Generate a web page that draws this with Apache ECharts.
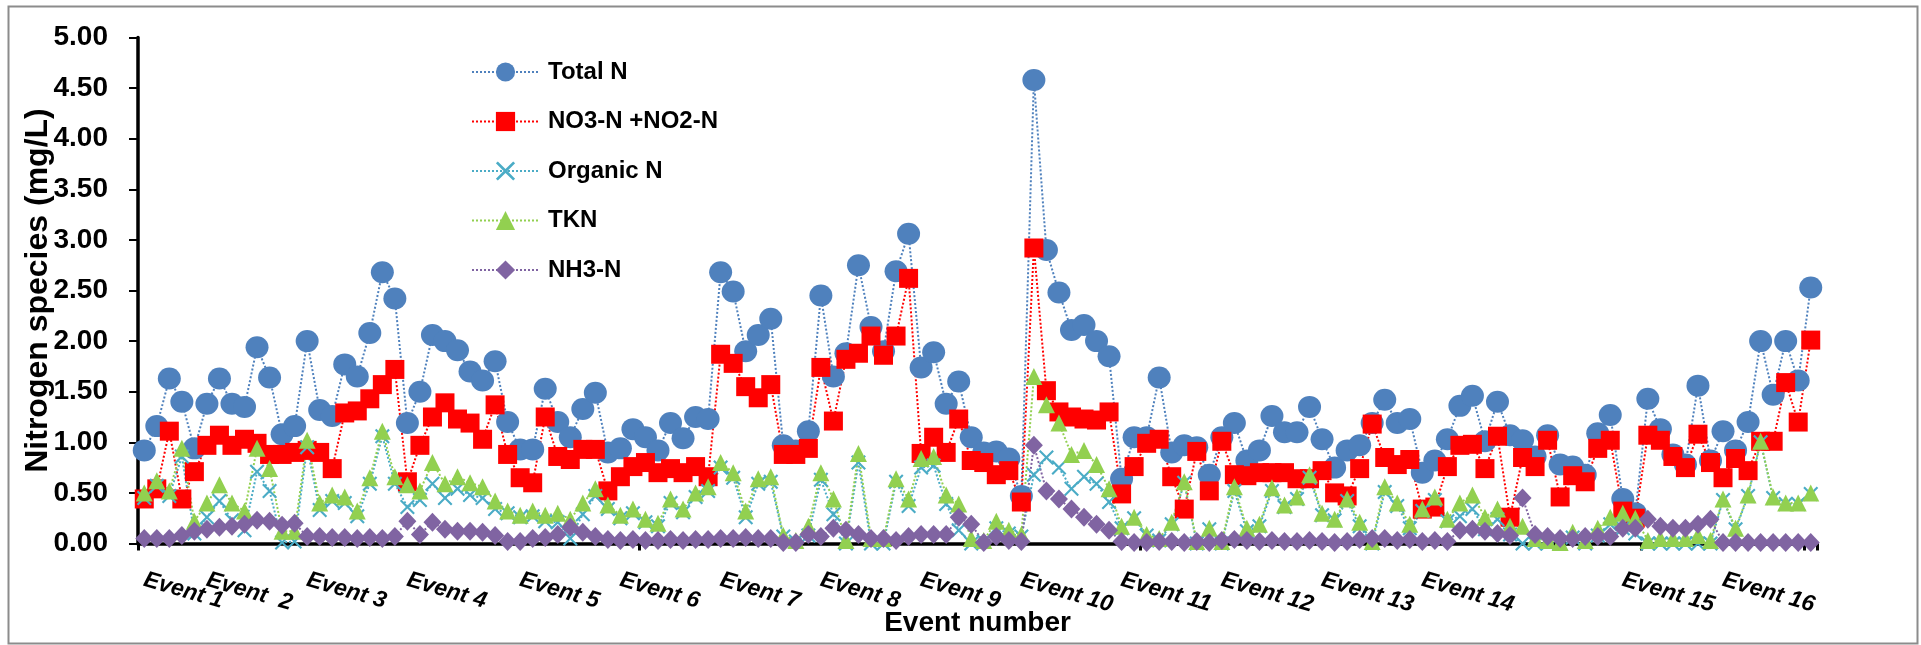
<!DOCTYPE html>
<html>
<head>
<meta charset="utf-8">
<script src="https://cdn.jsdelivr.net/npm/echarts@6/dist/echarts.min.js"></script>
<style>
  html, body { margin: 0; padding: 0; background: #fff; }
  #chart { width: 1921px; height: 645px; }
</style>
</head>
<body>
<div id="chart"></div>
<script>
// event labels and the sample index where each label sits
var eventNames = ['Event 1', 'Event  2', 'Event 3', 'Event 4', 'Event 5', 'Event 6', 'Event 7', 'Event 8',
  'Event 9', 'Event 10', 'Event 11', 'Event 12', 'Event 13', 'Event 14', 'Event 15', 'Event 16'];
var eventStart = [0, 5, 13, 21, 30, 38, 46, 54, 62, 70, 78, 86, 94, 102, 118, 126];

var yTicks = [0, 0.5, 1, 1.5, 2, 2.5, 3, 3.5, 4, 4.5, 5];

// series values (mg/L), one per sample
var totalN = [0.92, 1.16, 1.63, 1.40, 0.94, 1.38, 1.63, 1.38, 1.35, 1.94, 1.64, 1.08, 1.16, 2.00, 1.32, 1.26, 1.77, 1.65, 2.08, 2.68,
  2.42, 1.19, 1.50, 2.06, 2.00, 1.91, 1.70, 1.61, 1.80, 1.20, 0.93, 0.93, 1.53, 1.20, 1.05, 1.33, 1.49, 0.90, 0.94, 1.13,
  1.05, 0.92, 1.19, 1.04, 1.25, 1.23, 2.68, 2.49, 1.90, 2.06, 2.22, 0.97, 0.92, 1.11, 2.45, 1.65, 1.88, 2.75, 2.14, 1.90,
  2.69, 3.06, 1.74, 1.89, 1.38, 1.60, 1.05, 0.90, 0.91, 0.84, 0.47, 4.58, 2.90, 2.48, 2.11, 2.16, 2.00, 1.85, 0.64, 1.05,
  1.05, 1.64, 0.90, 0.97, 0.95, 0.68, 1.05, 1.19, 0.82, 0.92, 1.26, 1.10, 1.10, 1.35, 1.03, 0.75, 0.92, 0.97, 1.19, 1.42,
  1.19, 1.23, 0.70, 0.82, 1.03, 1.36, 1.46, 1.01, 1.40, 1.07, 1.02, 0.86, 1.07, 0.78, 0.76, 0.68, 1.09, 1.27, 0.44, 0.30,
  1.43, 1.13, 0.88, 0.78, 1.56, 0.82, 1.11, 0.92, 1.20, 2.00, 1.47, 2.00, 1.61, 2.53];

var no3no2 = [0.44, 0.54, 1.11, 0.44, 0.71, 0.97, 1.07, 0.97, 1.03, 0.99, 0.88, 0.88, 0.90, 0.92, 0.90, 0.74, 1.29, 1.31, 1.43, 1.57,
  1.72, 0.61, 0.97, 1.25, 1.39, 1.23, 1.19, 1.03, 1.37, 0.88, 0.65, 0.60, 1.25, 0.86, 0.83, 0.93, 0.93, 0.52, 0.66, 0.76,
  0.80, 0.70, 0.74, 0.70, 0.76, 0.66, 1.87, 1.78, 1.55, 1.44, 1.57, 0.88, 0.88, 0.94, 1.74, 1.21, 1.82, 1.88, 2.05, 1.86,
  2.05, 2.62, 0.89, 1.05, 0.90, 1.23, 0.82, 0.80, 0.68, 0.72, 0.41, 2.92, 1.51, 1.30, 1.25, 1.23, 1.22, 1.30, 0.49, 0.76,
  0.99, 1.03, 0.66, 0.34, 0.91, 0.52, 1.01, 0.68, 0.67, 0.70, 0.70, 0.70, 0.64, 0.64, 0.72, 0.50, 0.47, 0.74, 1.18, 0.85,
  0.78, 0.83, 0.34, 0.36, 0.76, 0.97, 0.98, 0.74, 1.06, 0.26, 0.85, 0.76, 1.02, 0.46, 0.67, 0.61, 0.94, 1.02, 0.32, 0.25,
  1.07, 1.02, 0.86, 0.75, 1.08, 0.80, 0.65, 0.84, 0.72, 1.01, 1.01, 1.59, 1.20, 2.01];

var organicN = [0.45, 0.57, 0.47, 0.86, 0.10, 0.26, 0.42, 0.23, 0.13, 0.71, 0.52, 0.01, 0.02, 0.95, 0.33, 0.42, 0.40, 0.27, 0.59, 1.06,
  0.59, 0.36, 0.43, 0.59, 0.45, 0.54, 0.48, 0.45, 0.34, 0.30, 0.26, 0.27, 0.22, 0.21, 0.05, 0.29, 0.47, 0.34, 0.25, 0.30,
  0.21, 0.17, 0.40, 0.31, 0.46, 0.52, 0.75, 0.65, 0.26, 0.59, 0.61, 0.07, 0.02, 0.08, 0.63, 0.29, 0.00, 0.80, 0.00, 0.00,
  0.61, 0.37, 0.75, 0.77, 0.39, 0.13, 0.00, 0.02, 0.15, 0.10, 0.07, 0.68, 0.85, 0.75, 0.54, 0.66, 0.59, 0.41, 0.15, 0.25,
  0.08, 0.03, 0.19, 0.60, 0.00, 0.14, 0.00, 0.52, 0.12, 0.17, 0.52, 0.36, 0.44, 0.65, 0.28, 0.23, 0.42, 0.17, 0.00, 0.51,
  0.37, 0.15, 0.32, 0.43, 0.22, 0.27, 0.34, 0.14, 0.24, 0.09, 0.00, 0.00, 0.00, 0.00, 0.06, 0.00, 0.08, 0.19, 0.15, 0.10,
  0.00, 0.00, 0.00, 0.00, 0.00, 0.00, 0.43, 0.14, 0.47, 1.00, 0.45, 0.39, 0.39, 0.49];

var tkn = [0.50, 0.62, 0.52, 0.94, 0.22, 0.40, 0.58, 0.40, 0.32, 0.94, 0.74, 0.12, 0.12, 1.02, 0.40, 0.48, 0.46, 0.32, 0.65, 1.11,
  0.66, 0.58, 0.52, 0.80, 0.59, 0.66, 0.60, 0.56, 0.42, 0.32, 0.28, 0.32, 0.28, 0.30, 0.24, 0.40, 0.54, 0.38, 0.28, 0.34,
  0.24, 0.20, 0.44, 0.34, 0.50, 0.56, 0.80, 0.70, 0.32, 0.64, 0.66, 0.08, 0.03, 0.17, 0.70, 0.44, 0.03, 0.89, 0.05, 0.05,
  0.64, 0.44, 0.84, 0.86, 0.48, 0.39, 0.05, 0.03, 0.22, 0.13, 0.09, 1.65, 1.37, 1.19, 0.88, 0.92, 0.78, 0.54, 0.17, 0.26,
  0.09, 0.05, 0.21, 0.61, 0.02, 0.15, 0.02, 0.56, 0.15, 0.19, 0.55, 0.38, 0.46, 0.68, 0.30, 0.24, 0.44, 0.21, 0.02, 0.56,
  0.40, 0.19, 0.34, 0.46, 0.24, 0.40, 0.48, 0.26, 0.34, 0.17, 0.17, 0.05, 0.03, 0.01, 0.11, 0.03, 0.15, 0.26, 0.30, 0.25,
  0.03, 0.05, 0.05, 0.05, 0.08, 0.03, 0.44, 0.15, 0.48, 1.01, 0.46, 0.40, 0.40, 0.50];

var nh3 = [0.05, 0.05, 0.05, 0.08, 0.12, 0.14, 0.16, 0.17, 0.19, 0.23, 0.22, 0.18, 0.20, 0.07, 0.07, 0.06, 0.06, 0.05, 0.06, 0.05,
  0.07, 0.22, 0.09, 0.21, 0.14, 0.12, 0.12, 0.11, 0.08, 0.02, 0.02, 0.05, 0.06, 0.09, 0.16, 0.11, 0.07, 0.04, 0.03, 0.04,
  0.03, 0.03, 0.04, 0.03, 0.04, 0.04, 0.05, 0.05, 0.06, 0.05, 0.05, 0.01, 0.01, 0.09, 0.07, 0.15, 0.13, 0.09, 0.05, 0.05,
  0.03, 0.07, 0.09, 0.09, 0.09, 0.26, 0.19, 0.01, 0.07, 0.03, 0.02, 0.97, 0.52, 0.44, 0.34, 0.26, 0.19, 0.13, 0.02, 0.01,
  0.01, 0.02, 0.02, 0.01, 0.02, 0.01, 0.03, 0.04, 0.03, 0.02, 0.03, 0.02, 0.02, 0.03, 0.02, 0.01, 0.02, 0.04, 0.05, 0.05,
  0.03, 0.04, 0.02, 0.03, 0.02, 0.13, 0.14, 0.12, 0.10, 0.08, 0.45, 0.09, 0.07, 0.05, 0.05, 0.07, 0.07, 0.07, 0.15, 0.15,
  0.24, 0.17, 0.15, 0.15, 0.19, 0.24, 0.01, 0.01, 0.01, 0.01, 0.01, 0.01, 0.01, 0.01];

var FONT = '"Liberation Sans", Arial, sans-serif';
var crossPath = 'path://M0,1 L1,0 L5,4 L9,0 L10,1 L6,5 L10,9 L9,10 L5,6 L1,10 L0,9 L4,5 Z';

var categories = [];
for (var i = 0; i < totalN.length; i++) categories.push('');
for (var k = 0; k < eventNames.length; k++) categories[eventStart[k]] = eventNames[k];

function dottedLine(name, data, color, symbol, size) {
  return {
    name: name,
    type: 'line',
    data: data,
    symbol: symbol,
    symbolSize: size,
    showSymbol: true,
    showAllSymbol: true,
    itemStyle: { color: color },
    lineStyle: { color: color, width: 2, type: 'dotted' },
    emphasis: { disabled: true }
  };
}

var chart = echarts.init(document.getElementById('chart'));
var options = {
  animation: false,
  backgroundColor: '#fff',
  textStyle: { fontFamily: FONT },
  grid: { left: 138, right: 104, top: 37.5, bottom: 101.5, containLabel: false, outerBoundsMode: 'none' },
  legend: {
    orient: 'vertical',
    left: 466,
    top: 55,
    itemWidth: 67,
    itemHeight: 24,
    itemGap: 25.5,
    textStyle: { fontSize: 24, fontWeight: 'bold', color: '#000', fontFamily: FONT, padding: [0, 0, 0, 4] },
    data: ['Total N', 'NO3-N +NO2-N', 'Organic N', 'TKN', 'NH3-N']
  },
  xAxis: {
    type: 'category',
    data: categories,
    boundaryGap: true,
    name: 'Event number',
    nameLocation: 'middle',
    nameGap: 66,
    nameMoveOverlap: false,
    nameTextStyle: { fontSize: 28, fontWeight: 'bold', color: '#000', fontFamily: FONT },
    axisLine: { lineStyle: { color: '#000', width: 3.5 } },
    axisTick: { show: true, interval: 39, length: 7, lineStyle: { color: '#000', width: 3 } },
    axisLabel: {
      interval: 0,
      rotate: -16,
      margin: 36,
      fontSize: 23,
      fontStyle: 'italic',
      fontWeight: 'bold',
      color: '#000',
      fontFamily: FONT
    },
    splitLine: { show: false }
  },
  yAxis: {
    type: 'value',
    min: yTicks[0],
    max: yTicks[yTicks.length - 1],
    interval: 0.5,
    name: 'Nitrogen species (mg/L)',
    nameLocation: 'middle',
    nameGap: 84,
    nameRotate: 90,
    nameMoveOverlap: false,
    nameTextStyle: { fontSize: 32, fontWeight: 'bold', color: '#000', fontFamily: FONT },
    axisLine: { show: true, lineStyle: { color: '#000', width: 3.5 } },
    axisTick: { show: true, length: 9, lineStyle: { color: '#000', width: 2 } },
    axisLabel: {
      margin: 30,
      fontSize: 28,
      fontWeight: 'bold',
      color: '#000',
      fontFamily: FONT,
      formatter: function (v) { return v.toFixed(2); }
    },
    splitLine: { show: false }
  },
  series: [
    dottedLine('Total N', totalN, '#4F81BD', 'circle', [23, 22]),
    dottedLine('NO3-N +NO2-N', no3no2, '#FF0000', 'rect', 19),
    dottedLine('Organic N', organicN, '#4BACC6', crossPath, 15),
    dottedLine('TKN', tkn, '#92D050', 'triangle', [17, 17]),
    dottedLine('NH3-N', nh3, '#8064A2', 'diamond', [18, 19])
  ],
  graphic: [{
    type: 'rect',
    left: 6,
    top: 4,
    shape: { width: 1909, height: 637 },
    style: { fill: 'none', stroke: '#8c8c8c', lineWidth: 2 },
    silent: true
  }]
};
chart.setOption(options);
</script>
</body>
</html>
